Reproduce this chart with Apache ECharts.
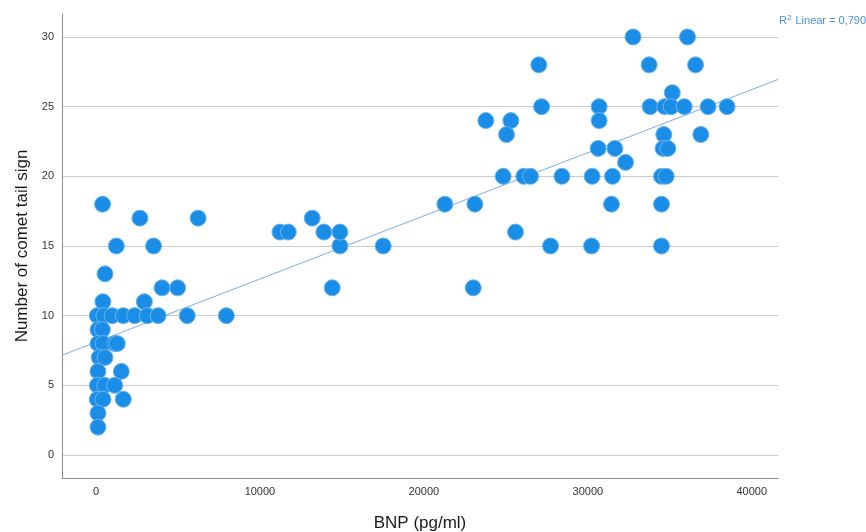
<!DOCTYPE html>
<html>
<head>
<meta charset="utf-8">
<script src="https://cdn.jsdelivr.net/npm/echarts@6/dist/echarts.min.js"></script>
<style>
html,body{margin:0;padding:0;background:#fff;}
#chart{width:866px;height:532px;}
</style>
</head>
<body>
<div id="chart"></div>
<script>
// BNP (pg/ml) values and matching number of comet tail signs
const bnp = [
  400, 2680, 6230, 13190,
  1240, 3510, 14880, 17520,
  11220, 11730, 13900, 14880,
  550,
  4030, 4980, 14410, 23010,
  420, 2950,
  80, 488, 994, 1665, 2360, 3128, 3790, 5567, 7950,
  120, 390,
  120, 445, 1150, 1300,
  200, 550,
  120, 1545,
  80, 530, 1140,
  80, 427, 1665,
  120,
  120,
  32760, 36080,
  27010, 33740, 36570,
  35150,
  27180, 30690, 33800, 34695, 35080, 35880, 37335, 38494,
  23780, 25305, 30690,
  25040, 34634, 36890,
  30630, 31650, 34590, 34880,
  32300,
  24836, 26098, 26506, 28420, 30262, 31506, 34494, 34780,
  21280, 23110, 31443, 34494,
  25590,
  27726, 30226, 34494
];
const cometTail = [
  18, 17, 17, 17,
  15, 15, 15, 15,
  16, 16, 16, 16,
  13,
  12, 12, 12, 12,
  11, 11,
  10, 10, 10, 10, 10, 10, 10, 10, 10,
  9, 9,
  8, 8, 8, 8,
  7, 7,
  6, 6,
  5, 5, 5,
  4, 4, 4,
  3,
  2,
  30, 30,
  28, 28, 28,
  26,
  25, 25, 25, 25, 25, 25, 25, 25,
  24, 24, 24,
  23, 23, 23,
  22, 22, 22, 22,
  21,
  20, 20, 20, 20, 20, 20, 20, 20,
  18, 18, 18, 18,
  16,
  15, 15, 15
];
// Linear fit
const fitIntercept = 8.10;
const fitSlope = 0.0004532;
const xTicks = [0, 10000, 20000, 30000, 40000];
const yTicks = [0, 5, 10, 15, 20, 25, 30];
const xMin = -2073, xMax = 41600, yMin = -1.65, yMax = 31.65;

const points = bnp.map((v, i) => [v, cometTail[i]]);
const fitLine = [[xMin, fitIntercept + fitSlope * xMin], [xMax, fitIntercept + fitSlope * xMax]];

const chart = echarts.init(document.getElementById('chart'), null, {renderer: 'canvas'});
chart.setOption({
  animation: false,
  backgroundColor: '#ffffff',
  grid: {left: 62, right: 88, top: 14, bottom: 54, containLabel: false, outerBoundsMode: 'none'},
  xAxis: {
    type: 'value', min: xMin, max: xMax,
    name: 'BNP (pg/ml)', nameLocation: 'middle', nameGap: 37,
    nameTextStyle: {fontFamily: 'Liberation Sans, Arial', fontSize: 17, color: '#1a1a1a'},
    axisLine: {show: true, onZero: false, lineStyle: {color: '#8a8a8a', width: 1}},
    axisTick: {show: false, customValues: xTicks},
    axisLabel: {customValues: xTicks, margin: 8, fontFamily: 'Liberation Sans, Arial', fontSize: 11, color: '#333',
      formatter: v => String(v)},
    splitLine: {show: false}
  },
  yAxis: {
    type: 'value', min: yMin, max: yMax,
    name: 'Number of comet tail sign', nameLocation: 'middle', nameGap: 31,
    nameTextStyle: {fontFamily: 'Liberation Sans, Arial', fontSize: 17, color: '#1a1a1a'},
    axisLine: {show: true, onZero: false, lineStyle: {color: '#8a8a8a', width: 1}},
    axisTick: {show: false, customValues: yTicks},
    axisLabel: {customValues: yTicks, margin: 8, fontFamily: 'Liberation Sans, Arial', fontSize: 11, color: '#333',
      formatter: v => String(v)},
    splitLine: {show: true, lineStyle: {color: '#cccccc', width: 1.2}}
  },
  graphic: [{
    type: 'text', left: 779, top: 14,
    style: {
      rich: {
        a: {fontFamily: 'Liberation Sans, Arial', fontSize: 11, fill: '#4a90d9'},
        s: {fontFamily: 'Liberation Sans, Arial', fontSize: 8, fill: '#4a90d9', verticalAlign: 'top', padding: [0, 1, 5, 0]}
      },
      text: '{a|R}{s|2}{a| Linear = 0,790}'
    }
  }],
  series: [
    {
      type: 'line', data: fitLine, showSymbol: false, symbol: 'none', silent: true, z: 1,
      lineStyle: {color: '#7aaee8', width: 1}
    },
    {
      type: 'scatter', data: points, symbol: 'circle', symbolSize: 16, z: 2,
      itemStyle: {color: '#1a8de6', borderColor: '#6cb3f0', borderWidth: 1, opacity: 1}
    }
  ]
});
</script>
</body>
</html>
